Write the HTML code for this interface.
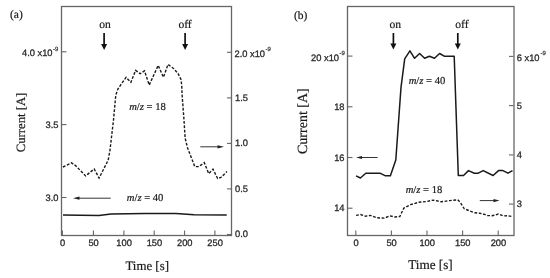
<!DOCTYPE html>
<html><head><meta charset="utf-8">
<style>
html,body{margin:0;padding:0;background:#fff;width:550px;height:278px;overflow:hidden}
svg{display:block;will-change:transform;filter:blur(0.3px)}
text{text-rendering:geometricPrecision;-webkit-font-smoothing:antialiased}
.ax{fill:none;stroke:#666;stroke-width:1.3}
.tk{stroke:#666;stroke-width:1.1}
.sans{font-family:"Liberation Sans",sans-serif;font-size:9.3px;fill:#2a2a2a;stroke:#2a2a2a;stroke-width:0.3}
.sup{font-family:"Liberation Sans",sans-serif;font-size:6px;fill:#2a2a2a;stroke:#2a2a2a;stroke-width:0.2}
.serif{font-family:"Liberation Serif",serif;fill:#1a1a1a;stroke:#1a1a1a;stroke-width:0.2}
.cv{fill:none;stroke:#1a1a1a;stroke-width:1.5;stroke-linejoin:round}
.dash{fill:none;stroke:#1a1a1a;stroke-width:1.4;stroke-dasharray:2.8 1.6}
.arr{stroke:#333;stroke-width:1}
</style></head><body>
<svg width="550" height="278" viewBox="0 0 550 278">
<rect width="550" height="278" fill="#fff"/>

<!-- ================= PANEL (a) ================= -->
<text class="serif" x="10" y="18.4" font-size="11.5" stroke-width="0.35">(a)</text>
<rect class="ax" x="61.5" y="6.5" width="170" height="229"/>
<!-- bottom ticks -->
<g class="tk">
<line x1="62.4" y1="235" x2="62.4" y2="230.5"/>
<line x1="93.4" y1="235" x2="93.4" y2="230.5"/>
<line x1="123.9" y1="235" x2="123.9" y2="230.5"/>
<line x1="154.2" y1="235" x2="154.2" y2="230.5"/>
<line x1="184.6" y1="235" x2="184.6" y2="230.5"/>
<line x1="214.9" y1="235" x2="214.9" y2="230.5"/>
<!-- left ticks -->
<line x1="62" y1="51.8" x2="66.5" y2="51.8"/>
<line x1="62" y1="124.6" x2="66.5" y2="124.6"/>
<line x1="62" y1="197.5" x2="66.5" y2="197.5"/>
<!-- right ticks -->
<line x1="231" y1="52.3" x2="227" y2="52.3"/>
<line x1="231" y1="97.9" x2="227" y2="97.9"/>
<line x1="231" y1="143.4" x2="227" y2="143.4"/>
<line x1="231" y1="188.9" x2="227" y2="188.9"/>
<line x1="231" y1="234.5" x2="227" y2="234.5"/>
</g>
<!-- bottom labels -->
<g class="sans" text-anchor="middle">
<text x="62.6" y="246.3">0</text>
<text x="93.6" y="246.3">50</text>
<text x="124.1" y="246.3">100</text>
<text x="154.4" y="246.3">150</text>
<text x="184.8" y="246.3">200</text>
<text x="215.1" y="246.3">250</text>
</g>
<!-- left labels -->
<g class="sans" text-anchor="end">
<text x="52.5" y="55.9">4.0 x10</text>
<text x="58.5" y="127.5">3.5</text>
<text x="58.5" y="200.6">3.0</text>
</g>
<text class="sup" x="53" y="51">-9</text>
<!-- right labels -->
<g class="sans">
<text x="234.5" y="56.8">2.0 x10</text>
<text x="235" y="100.6">1.5</text>
<text x="235" y="146.2">1.0</text>
<text x="235" y="191.7">0.5</text>
<text x="235" y="237">0.0</text>
</g>
<text class="sup" x="265.5" y="51.4">-9</text>
<!-- axis titles -->
<text class="serif" font-size="12.9" x="125.4" y="269.8">Time [s]</text>
<text class="serif" font-size="12.7" transform="translate(25.4,152.2) rotate(-90)">Current [A]</text>
<!-- on/off -->
<text class="serif" font-size="11.6" x="99.3" y="27.6">on</text>
<text class="serif" font-size="11.6" x="178.4" y="27.5">off</text>
<line x1="104.1" y1="33" x2="104.1" y2="45" stroke="#111" stroke-width="1.7"/>
<path d="M101.1 44 L107.1 44 L104.1 50 Z" fill="#111"/>
<line x1="185.1" y1="33" x2="185.1" y2="45" stroke="#111" stroke-width="1.7"/>
<path d="M182.1 44 L188.1 44 L185.1 50 Z" fill="#111"/>
<!-- labels m/z -->
<text class="serif" font-size="10.6" x="129.2" y="110.3"><tspan font-style="italic">m</tspan>/<tspan font-style="italic">z</tspan> = 18</text>
<text class="serif" font-size="10.6" x="126.8" y="201.3"><tspan font-style="italic">m</tspan>/<tspan font-style="italic">z</tspan> = 40</text>
<!-- arrows -->
<line class="arr" x1="200.3" y1="146.8" x2="219" y2="146.8"/>
<path d="M217.5 145.2 L224 146.8 L217.5 148.4 Z" fill="#222"/>
<line class="arr" x1="78" y1="198.2" x2="110.7" y2="198.2"/>
<path d="M79.5 196.6 L73 198.2 L79.5 199.8 Z" fill="#222"/>
<!-- curves -->
<path class="dash" d="M62.9 167 L71.5 162.9 L75.8 165.8 L85.6 175.9 L94.2 169 L99.1 178.1 L108.2 160.1 L110 150 L113.5 120 L115.8 95 L118 88.8 L126.1 77.3 L130.9 82.3 L135.6 70.4 L140.2 73.7 L144.5 70.8 L149.2 85.1 L158.2 65.4 L163.4 77.3 L168 64.4 L173.8 68.7 L178.1 73.7 L181 79.5 L181.7 85 L182.1 95 L184 120 L185.1 138 L187.6 148 L194.8 166.6 L198.8 166.6 L204.3 162.7 L208.7 173.6 L213 169.2 L217.6 178.5 L220.9 177.5 L226.9 171.6"/>
<path class="cv" d="M63 214.9 L80 215.2 L99 215.5 L111 213.9 L145 213.6 L176 213.5 L194 214.8 L226.7 215.1"/>

<!-- ================= PANEL (b) ================= -->
<text class="serif" x="294" y="19.4" font-size="11.5" stroke-width="0.35">(b)</text>
<rect class="ax" x="347.5" y="6.5" width="166.5" height="229"/>
<g class="tk">
<line x1="355.8" y1="235" x2="355.8" y2="230.5"/>
<line x1="391.4" y1="235" x2="391.4" y2="230.5"/>
<line x1="427" y1="235" x2="427" y2="230.5"/>
<line x1="462.6" y1="235" x2="462.6" y2="230.5"/>
<line x1="498.2" y1="235" x2="498.2" y2="230.5"/>
<line x1="348" y1="56.1" x2="352.5" y2="56.1"/>
<line x1="348" y1="106.8" x2="352.5" y2="106.8"/>
<line x1="348" y1="157.5" x2="352.5" y2="157.5"/>
<line x1="348" y1="208.2" x2="352.5" y2="208.2"/>
<line x1="513.5" y1="56.4" x2="509" y2="56.4"/>
<line x1="513.5" y1="105.6" x2="509" y2="105.6"/>
<line x1="513.5" y1="154.9" x2="509" y2="154.9"/>
<line x1="513.5" y1="204.1" x2="509" y2="204.1"/>
</g>
<g class="sans" text-anchor="middle">
<text x="356" y="246.3">0</text>
<text x="391.6" y="246.3">50</text>
<text x="427.2" y="246.3">100</text>
<text x="462.8" y="246.3">150</text>
<text x="498.4" y="246.3">200</text>
</g>
<g class="sans" text-anchor="end">
<text x="339" y="60.5">20 x10</text>
<text x="344.5" y="109.8">18</text>
<text x="344.5" y="160.5">16</text>
<text x="344.5" y="211.3">14</text>
</g>
<text class="sup" x="339.5" y="54.5">-9</text>
<g class="sans">
<text x="516.8" y="60.7">6 x10</text>
<text x="516.8" y="108.7">5</text>
<text x="516.8" y="158.2">4</text>
<text x="516.8" y="207.3">3</text>
</g>
<text class="sup" x="540.5" y="54.5">-9</text>
<text class="serif" font-size="13.2" x="408.2" y="268.5">Time [s]</text>
<text class="serif" font-size="14" transform="translate(306.6,154) rotate(-90)">Current [A]</text>
<text class="serif" font-size="11.6" x="389.4" y="27.7">on</text>
<text class="serif" font-size="11.6" x="455.3" y="27.7">off</text>
<line x1="393.4" y1="33" x2="393.4" y2="45" stroke="#111" stroke-width="1.7"/>
<path d="M390.4 43.5 L396.4 43.5 L393.4 49.5 Z" fill="#111"/>
<line x1="457.8" y1="33" x2="457.8" y2="45" stroke="#111" stroke-width="1.7"/>
<path d="M454.8 43.5 L460.8 43.5 L457.8 49.5 Z" fill="#111"/>
<text class="serif" font-size="10.6" x="408.7" y="83.6"><tspan font-style="italic">m</tspan>/<tspan font-style="italic">z</tspan> = 40</text>
<text class="serif" font-size="10.6" x="405.7" y="192.9"><tspan font-style="italic">m</tspan>/<tspan font-style="italic">z</tspan> = 18</text>
<line class="arr" x1="362" y1="157.5" x2="377.5" y2="157.5"/>
<path d="M362 155.9 L356 157.5 L362 159.1 Z" fill="#222"/>
<line class="arr" x1="479.8" y1="200.6" x2="494" y2="200.6"/>
<path d="M493.5 199 L499.5 200.6 L493.5 202.2 Z" fill="#222"/>
<path class="cv" d="M356 175.8 L360.4 178 L365.8 173.3 L380.5 173.3 L385.5 175.8 L390.4 175.8 L395.8 160 L401 87.4 L404.7 58.9 L409.9 50.8 L414.6 58.3 L419.6 53.5 L424.6 58.3 L429.4 56.2 L434.5 58.3 L439.6 53.5 L444.2 56.2 L454.2 56.2 L458.3 175.5 L463.5 175.5 L468.5 170.6 L474.3 173.2 L478.3 173.2 L483.2 170.6 L493.1 175.5 L498.5 170.6 L502.9 170.6 L508 173.2 L512.5 170.6"/>
<path class="dash" d="M356.1 215.4 L360.5 214.5 L365.5 216.2 L370.4 215.4 L376.9 217.8 L384.3 218.1 L390 215.9 L394.9 217 L399.8 216.5 L403.9 208 L410.5 204.7 L418.6 202.3 L426.8 201.5 L433.2 200.1 L441.4 201.8 L449.5 200.6 L457.7 199.8 L460.2 202.3 L464.3 208.8 L470.8 211.3 L474.9 212.8 L479.8 213.2 L483.9 214.2 L487.6 215.5 L491.7 215.7 L495.4 215 L498.3 214 L503.2 215.9 L507.7 215.7 L511.8 216.5"/>
</svg>
</body></html>
